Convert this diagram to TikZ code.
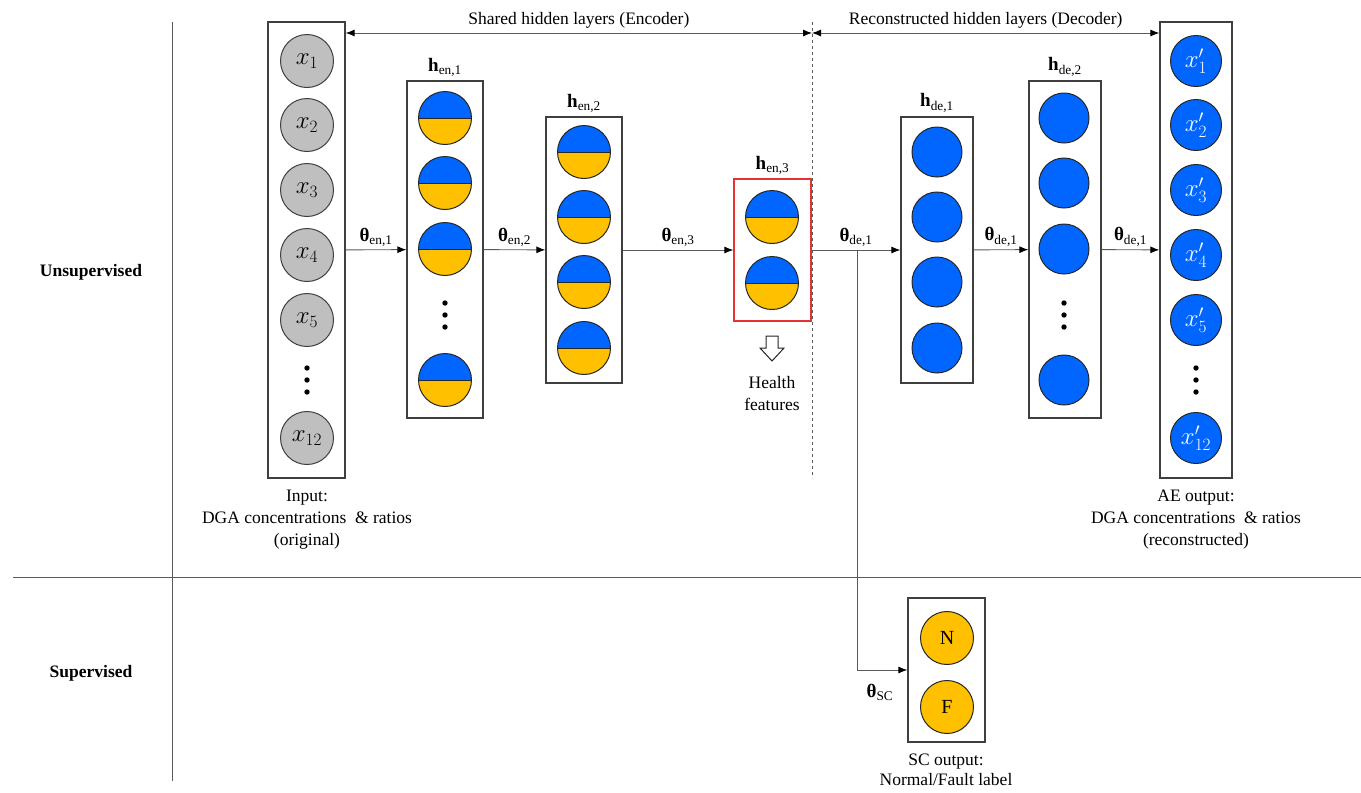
\documentclass[tikz,border=0pt]{standalone}
\usepackage{fontspec}
\setmainfont{Liberation Serif}
\usepackage{amsmath}
\usetikzlibrary{arrows.meta}

\definecolor{cblue}{HTML}{0066FF}
\definecolor{cyel}{HTML}{FFC000}
\definecolor{cgray}{HTML}{BFBFBF}
\definecolor{cline}{HTML}{5A5A5A}
\definecolor{cred}{HTML}{E53333}
\definecolor{cbox}{HTML}{3F3F3F}

% upright bold theta taken from the text font
\newcommand{\wtheta}{\text{\bfseries θ}}

\tikzset{
  txt/.style={font=\fontsize{17.5}{22}\selectfont, inner sep=2pt},
  layer/.style={rectangle, draw=cbox, line width=1.3pt, inner sep=0pt},
  redlayer/.style={layer, draw=cred},
  tip/.tip={Latex[length=9pt,width=7pt,black]},
  conn/.style={draw=cline, line width=0.9pt, -tip},
  span/.style={draw=cline, line width=0.9pt, tip-tip},
  rule/.style={draw=cline, line width=1pt},
  neuron/.style={circle, inner sep=0pt, draw=black!85, line width=1pt,
    font=\fontsize{23}{26}\selectfont},
  xin/.style={neuron, minimum size=53pt, fill=cgray, draw=cbox},
  xout/.style={neuron, minimum size=51pt, fill=cblue, text=white},
  bluen/.style={neuron, minimum size=50pt, fill=cblue},
  scn/.style={neuron, minimum size=53pt, fill=cyel, font=\fontsize{20}{24}\selectfont},
  halfn/.style={neuron, minimum size=53pt, path picture={
      \fill[cblue] (path picture bounding box.north west) rectangle (path picture bounding box.east);
      \fill[cyel] (path picture bounding box.south west) rectangle (path picture bounding box.east);
      \draw[line width=1pt] (path picture bounding box.west) -- (path picture bounding box.east);}},
  mlab/.style={font=\fontsize{19}{22}\selectfont, inner sep=2pt},
  hlab/.style={mlab, above=2pt},
  thlab/.style={mlab, midway, above=1pt},
  vdots3/.pic={\foreach \d in {-12,0,12} \fill (0,\d) circle (2.7);}
}

\begin{document}
\begin{tikzpicture}[x=1pt, y=-1pt]
\useasboundingbox (0,0) rectangle (1361,793);

% section rules
\coordinate (vtop) at (172,22);
\coordinate (vbot) at (172,781);
\coordinate (hl) at (13,577);
\coordinate (hr) at (1361,577);
\draw[rule] (vtop) -- (vbot);
\draw[rule] (hl) -- (hr);
\node[txt, font=\fontsize{17.5}{20}\selectfont\bfseries] (unsup) at (91,272) {Unsupervised};
\node[txt, font=\fontsize{17.5}{20}\selectfont\bfseries] (sup) at (91,673) {Supervised};

% layer boxes
\node[layer, minimum width=77pt, minimum height=456pt] (in)  at (306.5,250) {};
\node[layer, minimum width=76pt, minimum height=337pt] (h1)  at (445,249.5) {};
\node[layer, minimum width=76pt, minimum height=266pt] (h2)  at (584,250) {};
\node[redlayer, minimum width=77pt, minimum height=142pt] (h3) at (772.5,250) {};
\node[layer, minimum width=72pt, minimum height=266pt] (d1)  at (937,250) {};
\node[layer, minimum width=72pt, minimum height=337pt] (d2)  at (1065,249.5) {};
\node[layer, minimum width=72pt, minimum height=456pt] (out) at (1196,250) {};
\node[layer, minimum width=77pt, minimum height=144pt] (sc)  at (946.5,670) {};

% layer names
\node[hlab] (lh1) at (h1.north) {$\mathbf{h}_{\text{en,1}}$};
\node[hlab] (lh2) at (h2.north) {$\mathbf{h}_{\text{en,2}}$};
\node[hlab] (lh3) at (h3.north) {$\mathbf{h}_{\text{en,3}}$};
\node[hlab] (ld1) at (d1.north) {$\mathbf{h}_{\text{de,1}}$};
\node[hlab] (ld2) at (d2.north) {$\mathbf{h}_{\text{de,2}}$};

% input neurons
\node[xin] (x1)  at (307,61)  {$x_1$};
\node[xin] (x2)  at (307,125) {$x_2$};
\node[xin] (x3)  at (307,190) {$x_3$};
\node[xin] (x4)  at (307,255) {$x_4$};
\node[xin] (x5)  at (307,320) {$x_5$};
\pic at (307,380) {vdots3};
\node[xin] (x12) at (307,438) {$x_{12}$};

% encoder layer 1
\foreach \y [count=\i] in {118,183,249} \node[halfn] (e1n\i) at (445,\y) {};
\pic at (445,315) {vdots3};
\node[halfn] (e1n4) at (445,380) {};

% encoder layer 2
\foreach \y [count=\i] in {152,217,282,348} \node[halfn] (e2n\i) at (584,\y) {};

% encoder layer 3 (health features)
\node[halfn] (e3n1) at (772,217) {};
\node[halfn] (e3n2) at (772,283) {};

% decoder layer 1
\foreach \y [count=\i] in {152,217,282,348} \node[bluen] (d1n\i) at (937,\y) {};

% decoder layer 2
\foreach \y [count=\i] in {118,183,249} \node[bluen] (d2n\i) at (1064,\y) {};
\pic at (1064,315) {vdots3};
\node[bluen] (d2n4) at (1064,380) {};

% reconstructed outputs
\node[xout] (o1)  at (1196,61)  {$x'_1$};
\node[xout] (o2)  at (1196,125) {$x'_2$};
\node[xout] (o3)  at (1196,190) {$x'_3$};
\node[xout] (o4)  at (1196,255) {$x'_4$};
\node[xout] (o5)  at (1196,320) {$x'_5$};
\pic at (1196,380) {vdots3};
\node[xout] (o12) at (1196,438) {$x'_{12}$};

% classifier outputs
\node[scn] (nN) at (947,638) {N};
\node[scn] (nF) at (947,707) {F};

% connections between layers
\draw[conn] (in) -- node[thlab] {$\wtheta_{\text{en,1}}$} (h1);
\draw[conn] (h1) -- node[thlab] {$\wtheta_{\text{en,2}}$} (h2);
\draw[conn] (h2) -- node[thlab] {$\wtheta_{\text{en,3}}$} (h3);
\draw[conn] (h3) -- node[thlab] {$\wtheta_{\text{de,1}}$} (d1);
\draw[conn] (d1) -- node[thlab] {$\wtheta_{\text{de,1}}$} (d2);
\draw[conn] (d2) -- node[thlab] {$\wtheta_{\text{de,1}}$} (out);

% branch to the supervised classifier
\coordinate (br) at (857,250);
\draw[conn] (br) |- (sc.west);
\node[mlab] (thsc) at (880,692) {$\wtheta_{\text{SC}}$};

% encoder / decoder split
\coordinate (dtop) at (812,22);
\coordinate (dbot) at (812,478);
\coordinate (split) at (812,33);
\draw[draw=cline, line width=0.8pt, dashed] (dtop) -- (dbot);
\draw[span] (in.east |- split) -- node[txt, midway, above=2pt] {Shared hidden layers (Encoder)} (split);
\draw[span] (split) -- node[txt, midway, above=2pt] {Reconstructed hidden layers (Decoder)} (out.west |- split);

% health feature pointer
\draw[draw=black!85, line width=1pt, fill=white]
  (766,336) -- (778,336) -- (778,348) -- (784,348) -- (772,361) -- (760,348) -- (766,348) -- cycle;
\node[txt, align=center] (health) at (772,394) {Health\\features};

% captions
\node[txt, align=center] (incap) at (307,520) {Input:\\DGA concentrations\enspace\& ratios\\(original)};
\node[txt, align=center] (outcap) at (1196,520) {AE output:\\DGA concentrations\enspace\& ratios\\(reconstructed)};
\node[txt, align=center, font=\fontsize{17.5}{20}\selectfont] (sccap) at (946,770) {SC output:\\Normal/Fault label};
\end{tikzpicture}
\end{document}
